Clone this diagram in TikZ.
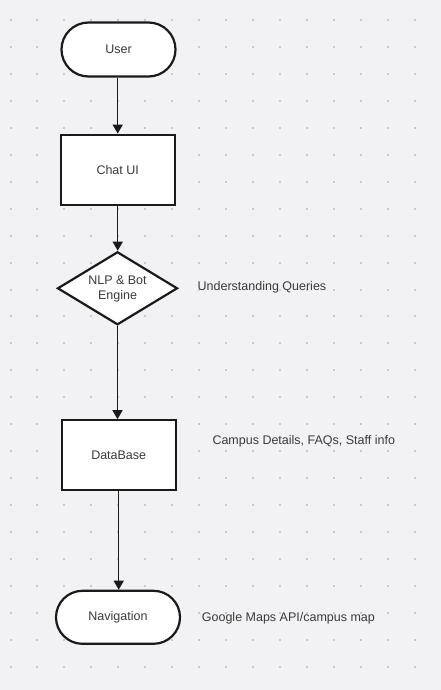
\documentclass[tikz,border=0pt]{standalone}
\usepackage{fontspec}
\setmainfont{Liberation Sans}
\usetikzlibrary{arrows.meta,shapes.geometric}
\definecolor{bgcol}{HTML}{F2F2F4}
\definecolor{dotcol}{HTML}{C9C9CC}
\definecolor{txtcol}{HTML}{3A3A3A}
\definecolor{linecol}{HTML}{1A1A1A}
\tikzset{
  every node/.style={font=\fontsize{12.5}{14.7}\selectfont, text=txtcol},
  shapebox/.style={draw=linecol, line width=2.2pt, fill=white, inner sep=0pt},
  termbox/.style={shapebox, rectangle, rounded corners=27pt, minimum width=114pt, minimum height=54pt},
  procbox/.style={shapebox, rectangle, minimum width=114pt, minimum height=70pt},
  decbox/.style={shapebox, diamond, minimum width=120pt, minimum height=73pt},
  sidelabel/.style={anchor=west, inner sep=0pt},
  flow/.style={draw=linecol, line width=1.5pt, -{Triangle[length=9pt,width=10pt]}},
}
\begin{document}
\begin{tikzpicture}[x=1pt,y=-1pt]
\fill[bgcol] (0,0) rectangle (441,690);
\useasboundingbox (0,0) rectangle (441,690);
\foreach \i in {0,...,16}{
  \foreach \j in {0,...,25}{
    \fill[dotcol] ({10.5+26.95*\i-1},{20+26.95*\j-1}) rectangle ++(2,2);
  }
}
\node[termbox] (user) at (118.5,49.5) {User};
\node[procbox] (chat) at (117.7,169.7) {Chat UI};
\node[decbox] (nlp) at (117.5,288.3) {};
\node[align=center, inner sep=0pt] (nlptext) at (117.5,289.3) {NLP \& Bot\\Engine};
\node[procbox] (db) at (118.7,455.3) {DataBase};
\node[termbox, minimum width=124pt, minimum height=53pt, rounded corners=26.5pt] (nav) at (118,617.3) {Navigation};
\node[sidelabel] (lbl1) at (197.5,287) {Understanding Queries};
\node[sidelabel] (lbl2) at (212.3,441) {Campus Details, FAQs, Staff info};
\node[sidelabel] (lbl3) at (201.7,618) {Google Maps API/campus map};
\draw[flow] (user.south -| chat.north) -- (chat.north);
\draw[flow] (chat.south) -- (chat.south |- nlp.north);
\draw[flow] (nlp.south) -- (nlp.south |- db.north);
\draw[flow] (db.south) -- (db.south |- nav.north);
\end{tikzpicture}
\end{document}
